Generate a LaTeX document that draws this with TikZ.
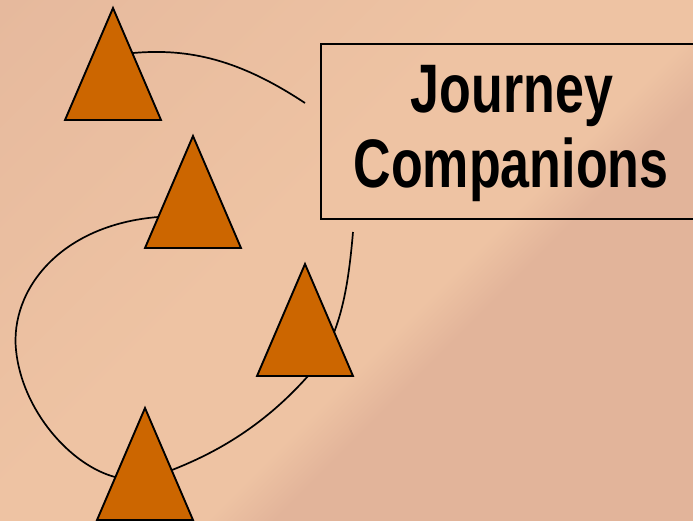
\documentclass[tikz,border=0pt]{standalone}
\usepackage{fontspec}
\setmainfont{Liberation Sans}
\usepackage{graphicx}
\definecolor{bgdark}{HTML}{E2B49A}
\definecolor{bglight}{HTML}{EEC3A3}
\definecolor{trifill}{HTML}{CC6600}
\pgfdeclarehorizontalshading{bgshade}{100bp}{color(0bp)=(bgdark); color(44bp)=(bglight); color(57bp)=(bglight); color(61bp)=(bgdark); color(100bp)=(bgdark)}
\tikzset{
  tri/.style={draw=black, line width=1.9pt, fill=trifill, line join=miter},
  link/.style={draw=black, line width=1.7pt},
  titletext/.style={font=\bfseries\fontsize{52}{75}\selectfont, inner sep=0pt, anchor=base},
  framebox/.style={draw=black, line width=1.7pt, inner sep=0pt, anchor=north west, minimum width=420pt, minimum height=175pt}
}
\newcommand{\mytri}[3]{% name, apex x, apex y
  \path[tri] (#2,#3) coordinate (#1top) -- (#2-48,#3+112) coordinate (#1bl) -- (#2+48,#3+112) coordinate (#1br) -- cycle;
}
\begin{document}
\begin{tikzpicture}[x=1pt,y=-1pt]
\useasboundingbox (0,0) rectangle (693,520);
\clip (0,0) rectangle (693,520);
\shade[shading=bgshade, shading angle=-45] (-1,-1) rectangle (694,521);
% connector end points
\coordinate (aStart) at (133,53);
\coordinate (aEnd) at (305,103);
\coordinate (bStart) at (158,217);
\coordinate (bLeft) at (16,350);
\coordinate (bEnd) at (115,477);
\coordinate (cStart) at (353,232);
\coordinate (cMid) at (308,376);
\coordinate (cEnd) at (172,470);
% connectors
\draw[link] (aStart) .. controls (190,48) and (240,60) .. (aEnd);
\draw[link] (bStart) .. controls (60,225) and (10,290) .. (bLeft) .. controls (22,410) and (70,465) .. (bEnd);
\draw[link] (cStart) .. controls (348,290) and (340,340) .. (cMid) .. controls (260,430) and (210,455) .. (cEnd);
% triangles
\mytri{t1}{113}{8}
\mytri{t2}{193}{136}
\mytri{t3}{305}{264}
\mytri{t4}{145}{408}
% title box
\node[framebox] (box) at (320,43) {};
\node[titletext] (line1) at (512,112) {\scalebox{1}[1.32]{Journey}};
\node[titletext] (line2) at (511,187) {\scalebox{1}[1.32]{Companions}};
\end{tikzpicture}
\end{document}
